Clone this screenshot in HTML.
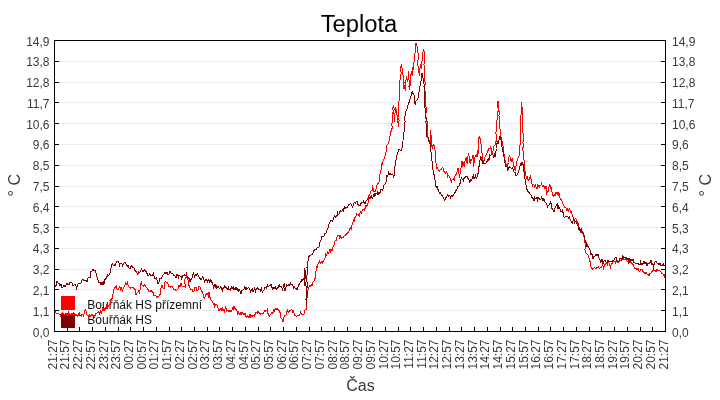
<!DOCTYPE html>
<html><head><meta charset="utf-8"><title>Teplota</title>
<style>
html,body{margin:0;padding:0;background:#fff;}
body{width:720px;height:400px;overflow:hidden;}
svg{display:block;}
</style></head><body>
<svg width="720" height="400" viewBox="0 0 720 400" font-family='"Liberation Sans", Arial, Helvetica, sans-serif'>
<rect x="0" y="0" width="720" height="400" fill="#fff"/>
<path d="M60 61.5H660 M60 82.5H660 M60 102.5H660 M60 123.5H660 M60 144.5H660 M60 165.5H660 M60 186.5H660 M60 206.5H660 M60 227.5H660 M60 248.5H660 M60 269.5H660 M60 289.5H660 M60 310.5H660" stroke="#ececec" stroke-width="1" fill="none" shape-rendering="crispEdges"/>
<path d="M55 61.5H59 M661 61.5H665 M55 82.5H59 M661 82.5H665 M55 102.5H59 M661 102.5H665 M55 123.5H59 M661 123.5H665 M55 144.5H59 M661 144.5H665 M55 165.5H59 M661 165.5H665 M55 186.5H59 M661 186.5H665 M55 206.5H59 M661 206.5H665 M55 227.5H59 M661 227.5H665 M55 248.5H59 M661 248.5H665 M55 269.5H59 M661 269.5H665 M55 289.5H59 M661 289.5H665 M55 310.5H59 M661 310.5H665 M67.5 327V331 M79.5 327V331 M92.5 327V331 M105.5 327V331 M118.5 327V331 M130.5 327V331 M143.5 327V331 M156.5 327V331 M169.5 327V331 M181.5 327V331 M194.5 327V331 M207.5 327V331 M219.5 327V331 M232.5 327V331 M245.5 327V331 M258.5 327V331 M270.5 327V331 M283.5 327V331 M296.5 327V331 M309.5 327V331 M321.5 327V331 M334.5 327V331 M347.5 327V331 M360.5 327V331 M372.5 327V331 M385.5 327V331 M398.5 327V331 M410.5 327V331 M423.5 327V331 M436.5 327V331 M449.5 327V331 M461.5 327V331 M474.5 327V331 M487.5 327V331 M500.5 327V331 M512.5 327V331 M525.5 327V331 M538.5 327V331 M550.5 327V331 M563.5 327V331 M576.5 327V331 M589.5 327V331 M601.5 327V331 M614.5 327V331 M627.5 327V331 M640.5 327V331 M652.5 327V331" stroke="#000" stroke-width="1" fill="none" shape-rendering="crispEdges"/>
<rect x="61" y="296" width="14" height="14" fill="#ff0000"/>
<rect x="61" y="314" width="14" height="14" fill="#800000"/>
<g font-size="12" fill="#111">
<text x="87.3" y="308.5">Bouřňák HS přízemní</text>
<text x="87.3" y="323.8">Bouřňák HS</text>
</g>
<polyline points="54.0,313.3 54.7,313.8 55.3,311.6 56.0,313.0 56.7,313.4 57.3,313.5 58.0,313.5 58.7,313.6 59.3,314.2 60.0,313.9 60.7,316.1 61.3,314.1 62.0,313.8 62.7,312.8 63.3,313.1 64.0,313.7 64.7,316.2 65.3,313.3 66.0,314.4 66.7,313.8 67.3,313.5 68.0,315.6 68.7,311.5 69.3,314.0 70.0,314.3 70.7,314.8 71.3,314.9 72.0,313.6 72.7,314.2 73.3,313.5 74.0,316.1 74.7,313.9 75.3,315.1 76.0,315.2 76.7,314.4 77.3,316.6 78.0,316.1 78.7,314.1 79.3,313.1 80.0,315.6 80.7,315.0 81.3,315.9 82.0,313.7 82.7,314.5 83.3,315.9 84.0,314.1 85.0,309.9 85.7,309.8 86.3,313.0 87.0,315.2 87.8,315.6 88.5,316.6 89.2,315.0 90.0,317.0 90.7,315.7 91.3,315.9 92.0,314.1 92.7,314.7 93.3,316.0 94.0,314.9 94.7,317.2 95.3,314.8 96.0,313.6 96.7,313.2 97.3,312.8 98.0,312.9 98.7,311.8 99.3,314.6 100.0,312.2 100.7,310.9 101.3,313.9 102.0,310.6 102.7,308.5 103.3,311.0 104.0,307.8 104.7,309.8 105.3,308.1 106.0,309.5 106.7,305.9 107.3,307.4 108.0,306.4 108.7,305.4 109.3,304.5 110.0,304.6 110.8,299.9 111.5,298.8 112.2,298.2 113.0,294.4 114.0,289.2 114.5,287.6 115.5,287.0 116.5,286.1 117.0,289.1 118.0,289.8 119.0,287.7 120.0,286.5 120.5,290.0 121.5,288.3 122.5,290.8 123.5,287.6 124.5,286.6 125.5,282.9 126.5,283.8 127.0,285.1 127.5,283.2 128.5,286.8 129.5,287.5 130.0,287.9 131.0,288.1 132.0,287.4 133.0,287.5 134.0,289.2 135.0,288.8 136.0,294.6 137.0,293.0 137.8,292.9 138.5,290.8 139.5,293.0 140.0,290.0 140.3,287.0 141.0,283.4 141.5,282.1 142.0,284.9 143.0,285.2 144.0,286.4 145.0,284.6 146.0,287.0 147.0,287.7 148.0,289.5 149.0,291.6 150.0,291.4 151.0,290.3 152.0,291.8 153.0,292.2 154.0,295.7 155.0,295.8 156.0,296.1 157.0,297.9 158.0,295.9 159.0,296.2 160.0,294.4 161.0,293.5 160.5,289.8 161.5,286.8 162.0,284.7 163.0,287.7 164.0,289.0 164.8,285.2 165.0,281.7 166.0,282.1 167.0,282.2 168.0,284.1 169.0,286.6 170.0,286.7 171.0,287.2 172.0,286.6 173.0,288.2 174.0,289.6 175.0,289.4 176.0,290.5 177.0,290.1 178.0,289.5 179.0,285.6 180.0,287.0 180.5,284.4 181.0,282.9 182.0,286.1 183.0,286.3 184.0,286.9 185.0,287.0 185.0,284.0 184.5,281.0 185.5,277.6 186.0,277.2 187.0,276.7 187.5,276.8 188.0,280.0 188.5,283.0 189.0,285.4 190.0,287.9 191.0,290.2 192.0,288.9 193.0,291.9 194.0,291.0 195.0,287.1 196.0,287.5 197.0,291.0 198.0,290.0 199.0,286.5 200.0,287.2 200.5,288.4 201.0,289.8 202.0,291.4 203.0,293.8 204.0,298.3 204.5,297.9 205.2,296.6 206.0,294.4 206.6,294.3 207.1,293.4 207.7,294.5 208.3,296.0 208.9,292.4 209.4,292.7 210.0,297.6 210.6,298.1 211.2,300.9 211.8,300.9 212.3,301.3 212.9,302.6 213.5,304.0 214.1,303.7 214.6,308.1 215.2,304.9 215.8,304.7 216.3,304.3 216.9,304.3 217.5,307.6 218.1,308.0 218.6,310.5 219.2,309.9 219.8,310.3 220.4,308.5 220.9,308.9 221.5,311.0 222.1,307.5 222.6,310.9 223.2,309.2 223.8,310.3 224.4,311.7 224.9,309.4 225.5,307.5 226.1,308.7 226.7,311.9 227.2,310.1 227.8,310.2 228.4,311.3 229.0,311.7 229.6,310.9 230.1,311.4 230.7,310.3 231.3,311.0 231.9,310.4 232.4,307.8 233.0,306.7 233.6,308.4 234.1,305.8 234.7,308.0 235.3,308.7 235.9,309.3 236.4,310.4 237.0,311.3 237.6,313.5 238.2,312.0 238.8,313.7 239.3,314.7 239.9,313.7 240.5,314.0 241.1,312.3 241.6,313.9 242.2,312.5 242.8,313.2 243.4,314.2 243.9,313.8 244.5,314.5 245.1,313.4 246.1,316.8 246.7,317.6 247.3,315.8 247.9,316.5 248.4,316.9 249.0,318.1 249.6,315.8 250.1,317.5 250.7,314.8 251.3,315.7 251.9,316.8 252.4,315.6 253.0,316.0 253.6,315.9 254.2,316.3 254.8,315.1 255.3,313.6 255.9,312.4 256.5,312.5 257.1,311.8 257.6,313.0 258.2,312.5 258.8,311.7 259.4,313.3 259.9,313.3 260.5,314.5 261.1,313.8 261.6,313.6 262.2,313.7 262.8,313.0 263.4,313.4 263.9,312.0 264.5,310.8 265.1,310.0 265.7,310.9 266.2,310.1 266.8,310.6 267.4,308.4 268.0,313.6 268.6,314.2 269.1,316.9 269.7,315.5 270.3,314.8 270.9,314.5 271.4,312.3 272.0,312.4 272.6,313.5 273.1,312.6 273.7,310.4 274.3,311.1 274.9,309.6 275.4,308.6 276.0,308.7 276.6,309.1 277.2,308.9 277.8,309.2 278.3,310.3 278.9,309.5 279.5,311.9 280.1,312.7 280.6,316.3 281.2,318.5 281.8,319.0 282.4,319.0 282.9,322.3 283.5,320.6 284.1,316.2 285.0,315.6 285.8,315.8 286.5,314.0 287.2,310.0 288.0,312.1 288.7,312.1 289.3,310.8 290.0,311.3 290.7,310.4 291.3,309.5 292.0,309.9 292.6,312.0 293.2,311.0 293.9,312.8 294.5,314.5 295.0,315.6 295.7,315.5 296.3,316.0 297.0,316.3 297.7,315.5 298.3,315.7 299.0,314.9 299.7,315.5 300.4,312.1 301.1,313.4 301.9,314.3 302.6,314.5 303.3,314.3 304.0,314.2 305.0,309.9 306.0,310.0 306.5,305.0 306.7,301.0 307.0,297.8 307.5,295.0 307.5,291.5 308.0,290.5 308.5,287.2 309.2,287.0 310.0,285.2 310.7,286.3 311.3,284.7 312.0,285.8 313.0,282.1 313.8,281.0 314.5,280.0 315.7,276.7 315.4,273.3 316.0,270.8 316.7,267.0 317.3,267.1 318.0,264.3 318.8,262.6 319.5,260.9 320.2,263.1 320.9,262.1 321.6,261.6 322.3,263.1 323.0,261.3 323.6,261.0 324.3,259.1 324.9,258.8 325.6,254.3 326.2,255.3 326.8,255.2 327.4,251.6 328.0,253.8 328.7,253.1 329.3,251.7 330.0,249.0 330.8,251.8 331.5,250.0 332.2,250.2 333.0,247.3 333.7,246.0 334.5,244.3 335.2,240.2 336.0,240.9 336.8,238.0 337.5,235.5 338.2,235.2 339.0,235.2 339.7,237.6 340.5,236.2 341.2,238.4 342.0,237.0 342.7,237.6 343.5,237.8 344.2,235.3 345.0,235.7 345.7,234.3 346.5,234.0 347.2,233.1 348.0,232.6 348.8,231.3 349.5,229.2 350.0,228.1 350.6,227.3 351.2,229.0 351.9,225.4 352.5,222.2 353.1,221.9 353.8,220.1 354.4,220.7 355.0,217.3 355.7,217.4 356.3,213.9 357.0,214.0 357.8,214.6 358.5,214.3 359.2,216.5 360.0,212.6 360.8,211.7 361.5,212.7 362.2,210.5 363.0,209.1 363.7,209.7 364.5,210.0 365.2,208.0 366.0,205.6 366.8,206.3 367.5,204.5 368.3,201.5 368.8,198.5 369.0,195.6 369.8,194.8 370.5,191.5 371.2,190.9 372.0,190.7 372.7,184.9 373.5,191.7 374.2,191.3 374.9,191.5 375.7,190.5 376.5,187.5 377.2,184.3 377.9,183.0 378.7,183.8 379.5,179.0 380.2,172.2 381.0,170.0 381.7,164.1 382.5,164.5 383.2,160.0 384.0,159.2 384.7,156.9 385.3,155.8 386.0,152.4 386.7,146.1 387.4,144.1 388.2,143.9 388.9,141.2 389.7,138.2 390.4,133.1 391.2,131.0 392.3,127.5 391.7,124.0 392.7,120.5 392.6,116.8 392.7,113.0 394.2,109.2 393.5,105.5 392.7,108.8 393.7,112.1 394.4,115.4 394.5,118.7 394.2,122.0 394.1,118.5 394.9,115.0 395.0,113.1 395.7,108.4 396.5,110.0 396.9,113.8 397.2,117.5 397.0,121.2 398.0,123.1 398.5,126.5 398.5,123.5 399.1,120.5 397.9,117.5 398.9,114.5 398.8,111.5 398.7,108.5 398.6,105.1 398.8,101.8 399.8,98.4 399.2,95.0 399.1,91.3 399.5,87.7 399.5,84.0 400.2,79.0 400.7,75.8 401.3,72.5 400.1,69.2 401.3,64.5 401.9,67.6 402.5,70.0 402.7,73.0 403.2,76.0 403.2,79.0 404.1,82.0 403.5,85.0 403.7,88.7 404.7,85.0 404.7,88.0 405.5,91.0 405.8,87.6 405.6,84.2 405.8,80.9 406.2,78.6 407.0,76.0 406.9,79.0 407.7,82.0 408.3,78.5 408.4,75.0 408.5,71.5 408.5,74.5 408.4,77.5 409.2,80.5 409.8,83.5 408.9,86.5 410.0,89.5 409.9,86.5 410.8,83.5 410.3,80.5 410.8,77.5 410.7,75.0 411.5,72.6 412.2,76.0 412.3,73.0 412.2,70.0 413.0,66.7 413.7,70.0 413.7,67.0 413.4,64.0 414.5,61.0 414.3,57.5 414.9,54.0 415.2,50.5 415.6,46.5 416.0,43.3 416.7,44.6 417.5,49.0 417.7,52.0 418.4,55.0 418.3,58.0 417.9,61.0 417.6,64.0 418.2,67.0 418.1,70.0 419.1,73.0 419.0,76.0 419.4,73.0 419.7,70.0 420.3,67.0 420.5,64.0 421.1,67.0 421.2,68.6 422.0,65.5 421.5,62.5 422.7,59.5 422.5,56.5 422.7,53.5 423.5,49.0 424.3,52.0 424.9,55.0 424.2,58.0 424.7,61.2 423.8,64.4 424.9,67.6 424.3,70.8 424.3,74.0 424.5,77.2 424.6,80.4 425.5,83.6 423.9,86.8 424.7,90.0 425.7,93.0 425.9,96.0 425.5,99.0 425.7,102.0 424.9,105.0 426.4,108.0 426.4,111.0 425.7,114.0 426.0,117.0 425.8,118.6 426.4,120.0 427.0,121.5 427.5,125.2 427.3,129.0 427.3,132.0 427.7,135.2 428.5,140.3 428.7,140.6 429.4,142.7 430.2,144.5 430.9,141.0 430.5,137.5 430.9,134.0 430.7,130.5 430.7,133.6 431.4,136.7 431.5,139.8 431.1,142.9 431.2,145.6 431.7,146.7 432.4,147.7 433.2,144.8 434.0,144.5 434.7,149.0 435.6,152.8 435.5,156.5 436.0,159.5 435.6,162.5 436.2,163.8 437.0,169.0 437.8,167.6 438.5,171.0 439.2,171.1 440.0,169.8 440.8,169.9 441.5,169.1 442.2,167.5 443.0,168.1 443.7,171.4 444.4,172.1 445.2,173.1 446.0,171.9 446.8,171.2 447.5,176.7 448.2,175.6 449.0,175.8 449.8,177.7 450.5,178.3 451.2,182.1 452.0,180.2 452.8,179.0 453.5,178.4 454.2,179.9 455.0,175.9 455.8,174.5 456.5,174.5 457.2,171.2 458.0,167.7 458.0,171.1 458.7,173.4 459.5,176.0 460.2,172.8 461.0,168.5 461.5,164.8 462.0,161.0 462.7,166.9 463.5,162.5 464.2,167.0 464.5,164.0 465.0,161.4 465.8,158.1 466.5,158.0 466.7,161.0 467.2,164.0 467.6,160.2 468.0,156.0 468.7,154.3 469.5,159.5 470.2,164.0 471.0,158.8 471.7,160.4 472.5,156.9 473.2,155.0 473.2,158.0 473.9,161.0 473.5,164.0 474.0,167.0 473.7,164.0 474.7,161.0 474.7,158.0 475.5,156.1 476.2,154.5 477.0,157.0 477.7,151.6 478.5,153.5 478.3,150.5 478.8,147.5 478.9,144.5 479.0,141.5 478.4,138.5 479.2,136.4 480.0,138.5 480.7,143.0 481.6,146.0 481.5,149.0 481.7,152.0 482.2,154.2 483.0,160.3 483.7,161.7 484.5,160.5 485.2,155.5 486.0,155.4 486.7,153.7 487.5,152.5 488.2,149.7 489.0,148.5 489.7,148.8 490.5,147.2 491.2,148.9 492.0,154.3 492.7,153.5 493.5,146.9 494.2,146.0 495.0,145.0 495.7,143.0 496.4,139.7 496.5,136.4 495.8,133.1 496.8,129.9 496.3,126.6 496.4,123.3 497.0,120.0 497.5,116.7 497.3,113.3 498.6,110.0 497.8,106.7 497.7,103.3 498.0,100.7 499.0,105.0 498.2,108.8 499.5,112.5 498.9,115.6 499.6,118.8 499.5,121.9 500.0,125.0 499.8,128.1 500.4,131.2 500.3,134.4 501.0,137.5 501.7,139.2 502.5,143.0 503.2,147.5 503.9,150.5 504.0,153.5 504.5,156.5 504.7,158.6 505.5,162.2 506.2,164.7 507.0,166.9 507.8,163.9 508.5,162.5 508.6,158.8 509.2,155.7 510.0,156.8 510.7,160.4 511.5,161.4 512.2,158.3 513.0,161.9 513.7,162.5 513.7,165.5 514.5,168.0 515.2,170.0 515.8,167.0 516.0,166.5 516.7,161.8 517.5,159.1 518.2,157.7 519.0,156.5 519.2,153.2 519.8,149.9 519.5,146.6 520.4,143.3 520.0,140.0 520.5,136.9 520.2,133.8 520.5,130.6 520.2,127.5 520.5,124.4 520.3,121.2 520.7,118.1 521.0,115.0 521.2,111.9 521.6,108.8 521.5,105.6 522.0,102.5 521.9,106.2 522.5,110.0 522.7,113.5 522.9,117.0 522.2,120.5 522.3,124.0 523.0,127.5 522.6,130.6 523.1,133.6 523.3,136.7 523.4,139.7 522.9,142.8 523.8,145.8 522.3,148.9 523.3,151.9 523.5,155.0 523.6,158.5 524.4,162.0 524.2,165.5 524.1,168.5 525.0,171.5 525.7,175.2 526.5,178.0 527.2,176.6 528.0,179.5 528.7,180.3 529.5,178.5 530.2,176.0 531.0,179.0 531.7,182.7 532.5,185.8 533.2,184.4 534.0,184.6 534.8,187.7 535.5,184.4 536.2,187.5 537.0,189.1 537.8,184.8 538.5,186.8 539.2,187.1 540.0,185.4 540.7,185.9 541.5,183.8 542.2,186.0 543.0,186.9 543.7,185.7 544.5,187.9 545.2,188.6 546.0,186.0 546.7,193.3 547.5,192.0 548.2,191.1 549.0,187.3 549.8,184.1 550.5,188.1 551.2,187.9 552.0,192.2 552.8,196.0 553.5,196.2 554.2,194.8 555.0,195.8 555.8,192.8 556.5,192.7 557.2,194.1 558.0,192.0 558.8,194.8 559.5,193.9 560.2,199.2 561.0,199.2 561.8,199.9 562.5,203.1 563.2,204.1 564.0,205.8 564.8,207.2 565.5,207.1 566.2,208.4 567.0,210.8 567.8,208.6 568.5,210.6 569.2,208.4 570.0,209.9 570.8,212.5 571.5,211.6 572.2,215.2 573.0,216.6 573.8,219.5 574.5,219.7 575.2,219.1 576.0,218.6 576.8,221.5 577.5,221.8 578.2,224.1 579.0,227.2 579.8,229.9 580.5,232.3 581.2,230.8 582.0,232.3 582.8,231.9 583.5,233.3 584.2,238.5 585.0,242.5 585.9,246.0 584.9,249.5 586.0,252.9 587.0,254.2 588.0,255.1 589.0,258.3 590.0,261.4 591.0,267.2 591.5,268.1 592.5,269.2 593.5,268.2 594.5,267.6 595.5,268.1 596.5,268.1 597.5,267.2 598.5,266.7 599.5,268.6 600.5,267.3 601.5,267.6 602.5,263.7 603.5,268.2 604.5,265.1 605.5,263.7 606.5,263.2 607.5,264.7 608.5,262.1 609.5,264.6 610.5,267.3 611.5,263.3 612.5,263.9 613.5,261.0 614.5,261.3 615.5,262.8 616.5,260.5 617.5,260.6 618.0,263.1 619.0,262.2 620.0,260.1 621.0,260.1 622.0,259.7 623.0,258.7 624.0,259.7 625.0,259.6 626.0,257.3 627.0,261.1 628.0,261.6 629.0,262.4 630.0,262.2 631.0,262.6 632.0,263.4 633.0,264.5 634.0,266.7 635.0,269.1 636.0,267.9 637.0,270.1 638.0,268.1 639.0,271.0 640.0,271.3 641.0,269.5 642.0,269.5 643.0,271.5 644.0,272.6 645.0,273.6 646.0,272.3 647.0,274.0 648.0,274.0 649.0,275.5 650.0,273.6 651.0,273.4 652.0,270.8 653.0,271.3 654.0,270.0 655.0,270.0 656.0,271.8 657.0,269.1 658.0,270.8 659.0,270.5 660.0,270.9 661.0,272.3 662.0,273.5 662.5,273.6 663.5,274.5 664.5,276.8 665.0,274.5" fill="none" stroke="#ff0000" stroke-width="1" shape-rendering="crispEdges"/>
<polyline points="54.0,289.3 55.0,286.3 56.0,285.7 57.0,281.2 58.0,283.0 59.0,283.3 60.0,285.7 61.0,284.1 62.0,288.1 63.0,287.0 64.0,285.5 65.0,287.2 66.0,284.9 67.0,283.6 68.0,284.8 69.0,284.6 70.0,282.2 71.0,282.9 72.0,283.0 73.0,286.1 74.0,285.2 75.0,284.5 76.0,286.0 76.5,289.5 77.0,287.0 78.0,284.2 79.0,283.5 80.0,283.3 81.0,283.4 82.0,280.1 83.0,279.0 84.0,280.8 85.0,280.2 86.0,280.0 87.0,281.5 88.0,278.0 89.0,276.9 90.0,277.7 91.0,271.6 92.0,270.9 93.0,269.0 94.0,271.1 95.0,270.0 96.0,273.1 97.0,276.7 98.0,279.9 99.0,282.9 100.0,282.2 101.0,285.1 102.0,282.4 103.0,285.0 103.5,281.0 104.0,284.5 104.5,280.0 105.5,278.7 106.5,278.5 107.5,274.5 108.5,275.6 109.5,274.2 110.5,271.8 111.0,268.0 111.5,264.5 112.5,263.6 113.0,265.0 114.0,266.0 115.0,264.2 115.5,264.8 116.5,261.6 117.5,261.2 118.5,261.4 119.5,264.8 120.0,262.9 121.0,263.4 122.0,264.0 122.5,266.6 123.0,265.0 124.0,262.8 125.0,262.6 126.0,264.2 126.5,265.1 127.0,264.5 127.5,267.2 128.0,265.1 129.0,268.2 130.0,269.0 131.0,266.3 132.0,265.7 133.0,267.5 134.0,268.0 135.0,270.6 136.0,271.5 137.0,273.2 137.8,274.6 138.5,272.0 139.5,272.3 140.5,271.9 141.5,267.9 142.5,271.7 143.5,270.9 144.5,269.8 145.5,271.0 146.5,272.0 147.5,275.1 148.5,275.7 149.5,273.8 150.5,275.3 151.5,275.9 152.5,275.5 153.5,273.1 154.5,278.5 155.5,278.8 156.5,278.1 157.5,282.2 158.0,283.9 159.0,282.4 160.0,278.4 161.0,279.2 162.0,277.3 163.0,275.3 164.0,274.2 165.0,271.7 166.0,273.7 167.0,272.5 168.0,274.8 169.0,274.2 170.0,271.6 171.0,273.2 172.0,273.2 173.0,274.1 174.0,275.6 175.0,275.8 176.0,278.4 177.0,274.2 178.0,276.3 178.5,279.2 179.0,274.9 180.0,276.0 181.0,276.0 181.5,279.0 182.0,277.6 183.0,275.0 184.0,275.8 185.0,274.7 186.0,276.0 186.5,272.5 187.0,276.2 188.0,277.0 189.0,278.5 190.0,282.0 191.0,279.5 192.0,278.6 192.5,275.4 193.5,273.2 194.5,276.9 195.5,274.3 196.5,275.1 197.5,274.1 198.5,275.3 199.5,277.9 200.5,279.1 201.5,279.6 202.5,277.0 203.5,278.0 204.5,282.7 205.2,279.9 206.0,281.3 206.6,280.2 207.1,281.2 207.7,282.0 208.3,279.3 208.9,280.0 209.4,280.1 210.0,282.5 210.6,279.8 211.1,280.3 211.7,282.2 212.3,282.1 212.9,284.0 213.5,289.2 214.0,287.2 214.6,285.4 215.2,288.4 215.8,284.4 216.3,289.2 216.9,285.3 217.5,287.0 218.1,287.4 218.6,286.7 219.2,288.7 219.8,288.6 220.4,287.7 220.9,286.4 221.5,289.0 222.1,289.9 222.6,290.9 223.2,287.1 223.8,289.2 224.4,286.5 224.9,288.0 225.5,286.4 226.1,286.9 226.7,288.1 227.2,289.1 227.8,289.0 228.4,287.7 229.0,289.6 229.6,289.4 230.1,288.6 230.7,290.9 231.3,287.1 231.9,286.5 232.4,288.0 233.0,288.9 233.6,287.5 234.1,290.3 234.7,288.5 235.3,287.9 235.9,289.6 236.4,286.7 237.0,290.2 237.6,288.7 238.2,291.3 238.8,289.7 239.3,289.9 239.9,290.5 240.5,293.2 241.1,293.8 241.6,291.5 242.2,290.0 242.8,290.7 243.4,289.4 243.9,289.9 244.5,286.9 245.1,287.7 246.1,289.9 246.7,287.9 247.3,288.2 247.9,288.5 248.4,287.8 249.0,287.7 249.6,289.6 250.1,289.9 250.7,291.8 251.3,290.1 251.9,289.4 252.4,289.1 253.0,292.2 253.6,291.2 254.2,289.0 254.8,287.7 255.3,293.1 255.9,289.8 256.5,289.2 257.1,288.1 257.6,287.9 258.2,289.5 258.8,288.3 259.4,290.0 259.9,289.9 260.5,290.9 261.1,288.6 261.6,287.0 262.2,292.7 262.8,291.4 263.4,290.0 263.9,290.0 264.5,288.2 265.1,287.3 265.7,287.7 266.2,288.7 266.8,286.4 267.4,284.2 268.0,286.8 268.6,286.8 269.1,285.6 269.7,285.7 270.3,285.0 270.9,286.1 271.4,284.3 272.0,287.8 272.6,288.9 273.1,286.9 273.7,288.0 274.3,287.6 274.9,288.4 275.4,287.2 276.0,288.4 276.6,289.1 277.2,289.0 277.8,287.8 278.3,285.0 278.9,287.4 279.5,284.4 280.1,287.0 280.6,286.7 281.2,286.6 281.8,287.1 282.4,290.4 282.9,288.3 283.5,286.5 284.1,283.5 285.2,287.2 284.7,290.6 285.5,290.8 286.2,285.0 287.0,284.8 287.7,285.3 288.3,285.4 289.0,284.7 289.7,285.5 290.3,282.6 291.0,284.6 291.7,284.9 292.4,284.4 293.1,285.9 293.8,287.9 294.5,286.9 295.1,288.0 295.8,288.0 296.4,289.2 297.0,289.2 297.6,289.1 298.2,286.1 298.9,284.5 299.5,284.0 300.1,283.2 300.8,281.7 301.4,281.8 302.0,279.4 302.7,280.2 303.3,280.0 304.0,278.0 304.2,274.7 304.7,271.3 304.5,268.0 305.1,271.0 304.5,274.0 304.9,277.0 304.0,280.0 304.4,283.0 305.0,286.0 304.8,282.8 304.8,279.6 305.6,276.4 304.4,273.2 305.5,270.0 305.8,273.2 306.0,276.4 306.8,279.6 305.7,282.8 306.0,286.0 306.3,289.3 306.8,292.7 306.7,296.0 305.9,299.3 306.3,302.7 306.5,306.0 306.0,302.8 306.6,299.5 306.9,296.2 307.3,293.0 306.9,289.8 307.1,286.5 307.2,283.2 306.8,280.0 306.5,277.0 307.3,274.0 307.5,271.0 307.0,268.0 307.2,264.0 307.8,262.2 308.6,257.2 309.5,255.6 310.1,255.6 310.8,255.2 311.4,254.8 312.0,255.0 312.8,253.8 313.5,250.7 314.2,250.5 315.0,249.2 315.8,249.6 316.5,249.7 317.2,247.6 318.0,247.1 318.8,247.6 319.5,244.5 320.2,240.6 321.0,239.9 321.8,236.7 322.5,236.7 323.2,237.0 324.0,236.4 324.8,233.8 325.5,233.3 326.2,232.6 327.0,230.0 327.8,229.0 328.5,225.1 329.2,223.8 330.0,221.7 330.8,220.3 331.5,220.9 332.2,221.3 333.0,219.9 333.7,218.6 334.5,214.9 335.2,217.6 336.0,215.7 336.8,216.8 337.5,212.8 338.2,214.6 339.0,213.9 339.8,211.2 340.5,210.4 341.2,212.0 342.0,211.0 342.8,209.6 343.5,211.2 344.2,206.5 345.0,208.4 345.8,207.8 346.5,207.8 347.2,207.9 348.0,206.2 348.8,204.9 349.5,204.9 350.2,203.7 351.0,204.1 351.8,205.9 352.5,206.9 353.2,205.9 354.0,203.3 354.8,202.5 355.5,203.3 356.2,201.0 357.0,201.5 357.8,204.2 358.5,205.2 359.2,205.7 360.0,205.5 360.8,203.6 361.5,202.9 362.2,202.9 363.0,202.9 363.8,200.7 364.5,203.7 365.2,203.3 366.0,200.8 366.8,200.5 367.5,198.1 368.2,198.0 369.0,197.1 369.8,198.8 370.5,198.1 371.2,195.9 372.0,197.9 372.8,198.2 373.5,195.6 374.2,194.1 375.0,196.4 375.8,193.6 376.5,193.8 377.2,194.3 378.0,191.6 378.8,195.0 379.5,192.2 380.2,192.3 381.0,189.1 381.8,189.3 382.5,190.1 383.2,188.2 384.0,185.4 384.8,184.0 385.5,183.2 386.2,181.3 387.0,175.2 387.8,176.2 388.5,172.2 389.2,173.5 390.0,175.0 390.8,173.9 391.5,174.6 392.2,174.4 393.0,175.1 393.7,177.5 394.5,173.0 395.0,170.0 394.8,166.7 395.9,163.3 396.0,160.5 396.8,156.7 397.5,152.5 398.2,151.6 399.0,149.0 399.6,149.2 400.2,150.0 400.9,150.6 401.7,150.6 402.5,144.5 403.0,141.2 403.1,138.0 403.7,134.8 404.1,131.5 404.7,128.2 404.3,125.0 405.1,121.5 404.3,118.0 405.5,114.5 406.2,109.7 406.9,109.8 407.7,105.9 408.4,104.2 409.2,101.9 409.9,99.6 410.7,96.7 411.5,95.0 412.2,90.7 413.0,93.4 413.7,93.8 414.5,98.0 414.2,101.0 415.2,104.2 416.0,100.9 416.8,100.4 417.5,98.3 418.2,97.8 419.0,92.0 419.7,87.1 420.5,84.5 421.2,79.9 422.0,73.0 422.7,77.2 423.5,80.0 423.9,83.5 425.1,87.0 424.2,90.5 424.8,94.0 424.7,97.5 424.3,100.5 424.9,103.5 424.6,106.5 425.6,109.5 425.2,112.5 425.1,115.5 426.5,118.5 425.8,121.5 426.4,125.0 426.7,128.5 426.2,132.4 427.0,136.5 427.8,137.4 428.5,137.1 429.2,142.5 429.5,140.0 430.1,143.0 430.1,146.0 430.9,149.0 431.0,152.0 431.3,155.0 431.7,158.0 432.0,161.0 432.5,164.0 432.1,167.0 433.2,171.0 434.0,174.5 434.7,176.5 435.5,186.0 436.2,187.2 437.0,185.9 437.8,188.7 438.5,191.3 439.2,192.1 440.0,194.2 440.7,193.1 441.5,195.3 442.2,195.7 442.9,196.9 443.7,198.0 444.4,200.8 445.2,199.9 445.9,197.6 446.7,196.4 447.4,194.8 448.2,196.3 449.0,195.1 449.7,195.4 450.5,197.7 451.2,195.3 452.0,196.5 452.8,195.8 453.5,195.7 454.2,193.6 455.0,192.5 455.8,191.1 456.5,189.3 457.2,188.5 458.0,186.5 458.8,186.5 459.5,184.6 459.7,184.5 460.4,182.3 461.2,177.6 461.9,178.9 462.7,179.3 463.4,180.4 464.2,177.8 464.9,178.4 465.7,177.0 466.4,176.0 467.2,176.3 467.9,178.6 468.7,178.1 469.4,181.7 470.2,179.7 470.9,181.4 471.7,179.8 472.4,177.7 473.2,175.2 473.9,178.3 474.7,177.8 475.4,175.6 476.2,178.5 476.9,177.4 477.7,173.6 478.5,173.0 478.5,169.2 479.2,165.5 479.6,161.8 480.0,160.1 480.7,157.3 481.5,158.1 482.2,161.4 482.9,163.5 483.7,162.7 484.4,163.5 485.2,163.2 485.9,163.2 486.7,162.4 487.4,160.6 488.2,158.4 488.9,160.4 489.7,154.8 490.4,155.6 491.2,154.9 491.9,154.4 492.7,154.3 493.4,156.5 494.2,154.2 495.0,157.2 495.7,153.5 496.1,150.5 496.5,148.5 497.2,141.2 498.0,144.0 498.8,141.0 499.5,137.7 500.0,136.2 501.0,140.0 501.7,144.7 502.4,150.3 503.2,152.0 503.6,155.0 504.2,158.0 504.7,160.9 505.5,166.2 506.2,166.3 507.0,167.2 507.8,170.6 508.5,167.7 509.2,166.5 510.0,167.5 510.8,167.7 511.5,168.3 512.2,167.9 513.0,169.3 513.7,171.6 514.5,172.4 515.2,172.5 516.0,175.7 516.7,175.8 517.5,174.2 518.2,172.2 519.0,169.9 519.7,166.6 520.5,164.1 521.2,165.0 522.0,161.7 522.7,162.5 523.5,167.7 524.2,173.0 524.4,176.0 525.0,179.0 525.2,182.0 525.7,183.7 526.5,188.3 527.2,189.9 528.0,191.9 528.8,192.0 529.5,193.4 530.2,194.5 531.0,194.9 531.8,197.4 532.5,198.0 533.2,198.2 534.0,200.9 534.7,197.4 535.5,198.2 536.2,198.8 537.0,197.1 537.7,200.4 538.5,197.9 539.2,198.0 540.0,199.5 540.8,199.9 541.5,197.4 542.2,198.5 543.0,201.3 543.8,198.4 544.5,200.1 545.2,202.7 546.0,202.7 546.8,203.9 547.5,206.7 548.2,205.0 549.0,205.2 549.8,203.9 550.5,202.0 551.2,204.1 552.0,208.5 552.7,209.1 553.5,211.0 554.2,211.4 555.0,208.1 555.7,206.4 556.5,204.7 557.2,203.8 558.0,208.8 558.7,206.4 559.5,208.6 560.2,209.6 561.0,211.7 561.7,211.5 562.5,210.3 563.2,213.2 564.0,216.9 564.7,217.5 565.5,216.3 566.2,216.2 567.0,216.2 567.7,216.8 568.5,218.1 569.2,216.7 570.0,218.6 570.7,220.7 571.5,221.5 572.2,223.6 573.0,221.2 573.7,217.5 574.5,224.4 575.2,221.3 576.0,222.1 576.7,223.3 577.5,225.9 578.2,226.0 579.0,229.7 579.7,228.0 580.5,231.8 581.2,228.3 582.0,233.3 582.7,233.4 583.5,234.2 584.2,235.0 585.0,239.9 585.6,242.2 586.0,242.0 586.5,245.5 587.0,246.6 587.5,243.6 588.0,246.1 588.5,246.2 589.0,248.4 590.0,249.9 591.0,254.8 591.5,254.5 592.0,253.5 593.0,258.9 594.0,256.0 595.0,256.4 596.0,254.0 597.0,255.6 598.0,253.9 598.5,257.0 599.0,258.2 600.0,260.0 601.0,262.4 602.0,259.1 603.0,263.8 604.0,261.1 605.0,260.2 606.0,262.0 607.0,262.7 608.0,260.4 609.0,262.3 610.0,261.0 611.0,261.1 612.0,261.7 613.0,260.5 614.0,260.2 615.0,258.0 616.0,256.7 617.0,261.6 618.0,262.1 619.0,260.8 620.0,258.6 621.0,258.0 622.0,260.4 623.0,255.6 624.0,258.2 625.0,257.5 626.0,257.8 627.0,258.3 628.0,260.0 628.5,263.5 629.0,258.5 630.0,262.0 631.0,259.4 632.0,260.6 633.0,259.0 634.0,262.8 635.0,262.7 636.0,264.2 637.0,263.5 638.0,263.6 639.0,264.5 640.0,264.0 640.5,260.5 641.0,264.7 642.0,262.7 643.0,264.4 644.0,261.3 645.0,263.8 646.0,262.3 647.0,265.5 648.0,262.9 649.0,263.5 650.0,262.5 651.0,260.4 651.5,264.0 652.0,263.7 653.0,264.5 653.5,270.0 654.0,264.6 655.0,262.1 656.0,261.0 657.0,263.1 658.0,263.2 659.0,264.5 660.0,263.5 661.0,265.4 662.0,265.6 662.7,265.9 663.3,263.2 664.0,266.3 665.0,265.0" fill="none" stroke="#800000" stroke-width="1" shape-rendering="crispEdges"/>
<rect x="54.5" y="40.5" width="611" height="291" fill="none" stroke="#000" stroke-width="1" shape-rendering="crispEdges"/>
<g font-size="12" fill="#3a3a3a">
<text x="49.5" y="337" text-anchor="end">0,0</text><text x="672" y="337">0,0</text>
<text x="49.5" y="316" text-anchor="end">1,1</text><text x="672" y="316">1,1</text>
<text x="49.5" y="295" text-anchor="end">2,1</text><text x="672" y="295">2,1</text>
<text x="49.5" y="274" text-anchor="end">3,2</text><text x="672" y="274">3,2</text>
<text x="49.5" y="253" text-anchor="end">4,3</text><text x="672" y="253">4,3</text>
<text x="49.5" y="233" text-anchor="end">5,3</text><text x="672" y="233">5,3</text>
<text x="49.5" y="212" text-anchor="end">6,4</text><text x="672" y="212">6,4</text>
<text x="49.5" y="191" text-anchor="end">7,5</text><text x="672" y="191">7,5</text>
<text x="49.5" y="170" text-anchor="end">8,5</text><text x="672" y="170">8,5</text>
<text x="49.5" y="149" text-anchor="end">9,6</text><text x="672" y="149">9,6</text>
<text x="49.5" y="129" text-anchor="end">10,6</text><text x="672" y="129">10,6</text>
<text x="49.5" y="108" text-anchor="end">11,7</text><text x="672" y="108">11,7</text>
<text x="49.5" y="87" text-anchor="end">12,8</text><text x="672" y="87">12,8</text>
<text x="49.5" y="66" text-anchor="end">13,8</text><text x="672" y="66">13,8</text>
<text x="49.5" y="46" text-anchor="end">14,9</text><text x="672" y="46">14,9</text>
</g>
<g font-size="12" fill="#3a3a3a">
<text transform="translate(56.60,339.5) rotate(-90)" text-anchor="end">21:27</text><text transform="translate(69.33,339.5) rotate(-90)" text-anchor="end">21:57</text><text transform="translate(82.06,339.5) rotate(-90)" text-anchor="end">22:27</text><text transform="translate(94.79,339.5) rotate(-90)" text-anchor="end">22:57</text><text transform="translate(107.52,339.5) rotate(-90)" text-anchor="end">23:27</text><text transform="translate(120.25,339.5) rotate(-90)" text-anchor="end">23:57</text><text transform="translate(132.97,339.5) rotate(-90)" text-anchor="end">00:27</text><text transform="translate(145.70,339.5) rotate(-90)" text-anchor="end">00:57</text><text transform="translate(158.43,339.5) rotate(-90)" text-anchor="end">01:27</text><text transform="translate(171.16,339.5) rotate(-90)" text-anchor="end">01:57</text><text transform="translate(183.89,339.5) rotate(-90)" text-anchor="end">02:27</text><text transform="translate(196.62,339.5) rotate(-90)" text-anchor="end">02:57</text><text transform="translate(209.35,339.5) rotate(-90)" text-anchor="end">03:27</text><text transform="translate(222.08,339.5) rotate(-90)" text-anchor="end">03:57</text><text transform="translate(234.81,339.5) rotate(-90)" text-anchor="end">04:27</text><text transform="translate(247.54,339.5) rotate(-90)" text-anchor="end">04:57</text><text transform="translate(260.27,339.5) rotate(-90)" text-anchor="end">05:27</text><text transform="translate(273.00,339.5) rotate(-90)" text-anchor="end">05:57</text><text transform="translate(285.73,339.5) rotate(-90)" text-anchor="end">06:27</text><text transform="translate(298.45,339.5) rotate(-90)" text-anchor="end">06:57</text><text transform="translate(311.18,339.5) rotate(-90)" text-anchor="end">07:27</text><text transform="translate(323.91,339.5) rotate(-90)" text-anchor="end">07:57</text><text transform="translate(336.64,339.5) rotate(-90)" text-anchor="end">08:27</text><text transform="translate(349.37,339.5) rotate(-90)" text-anchor="end">08:57</text><text transform="translate(362.10,339.5) rotate(-90)" text-anchor="end">09:27</text><text transform="translate(374.83,339.5) rotate(-90)" text-anchor="end">09:57</text><text transform="translate(387.56,339.5) rotate(-90)" text-anchor="end">10:27</text><text transform="translate(400.29,339.5) rotate(-90)" text-anchor="end">10:57</text><text transform="translate(413.02,339.5) rotate(-90)" text-anchor="end">11:27</text><text transform="translate(425.75,339.5) rotate(-90)" text-anchor="end">11:57</text><text transform="translate(438.48,339.5) rotate(-90)" text-anchor="end">12:27</text><text transform="translate(451.20,339.5) rotate(-90)" text-anchor="end">12:57</text><text transform="translate(463.93,339.5) rotate(-90)" text-anchor="end">13:27</text><text transform="translate(476.66,339.5) rotate(-90)" text-anchor="end">13:57</text><text transform="translate(489.39,339.5) rotate(-90)" text-anchor="end">14:27</text><text transform="translate(502.12,339.5) rotate(-90)" text-anchor="end">14:57</text><text transform="translate(514.85,339.5) rotate(-90)" text-anchor="end">15:27</text><text transform="translate(527.58,339.5) rotate(-90)" text-anchor="end">15:57</text><text transform="translate(540.31,339.5) rotate(-90)" text-anchor="end">16:27</text><text transform="translate(553.04,339.5) rotate(-90)" text-anchor="end">16:57</text><text transform="translate(565.77,339.5) rotate(-90)" text-anchor="end">17:27</text><text transform="translate(578.50,339.5) rotate(-90)" text-anchor="end">17:57</text><text transform="translate(591.23,339.5) rotate(-90)" text-anchor="end">18:27</text><text transform="translate(603.95,339.5) rotate(-90)" text-anchor="end">18:57</text><text transform="translate(616.68,339.5) rotate(-90)" text-anchor="end">19:27</text><text transform="translate(629.41,339.5) rotate(-90)" text-anchor="end">19:57</text><text transform="translate(642.14,339.5) rotate(-90)" text-anchor="end">20:27</text><text transform="translate(654.87,339.5) rotate(-90)" text-anchor="end">20:57</text><text transform="translate(667.60,339.5) rotate(-90)" text-anchor="end">21:27</text>
</g>
<text transform="translate(359,31.7) scale(0.971,1)" font-size="24.5" text-anchor="middle" fill="#000">Teplota</text>
<text x="360.5" y="390.5" font-size="16" text-anchor="middle" fill="#3a3a3a">Čas</text>
<text transform="translate(20,185.2) rotate(-90)" font-size="16" text-anchor="middle" fill="#3a3a3a">° C</text>
<text transform="translate(710.6,185.2) rotate(-90)" font-size="16" text-anchor="middle" fill="#3a3a3a">° C</text>
</svg>
</body></html>
